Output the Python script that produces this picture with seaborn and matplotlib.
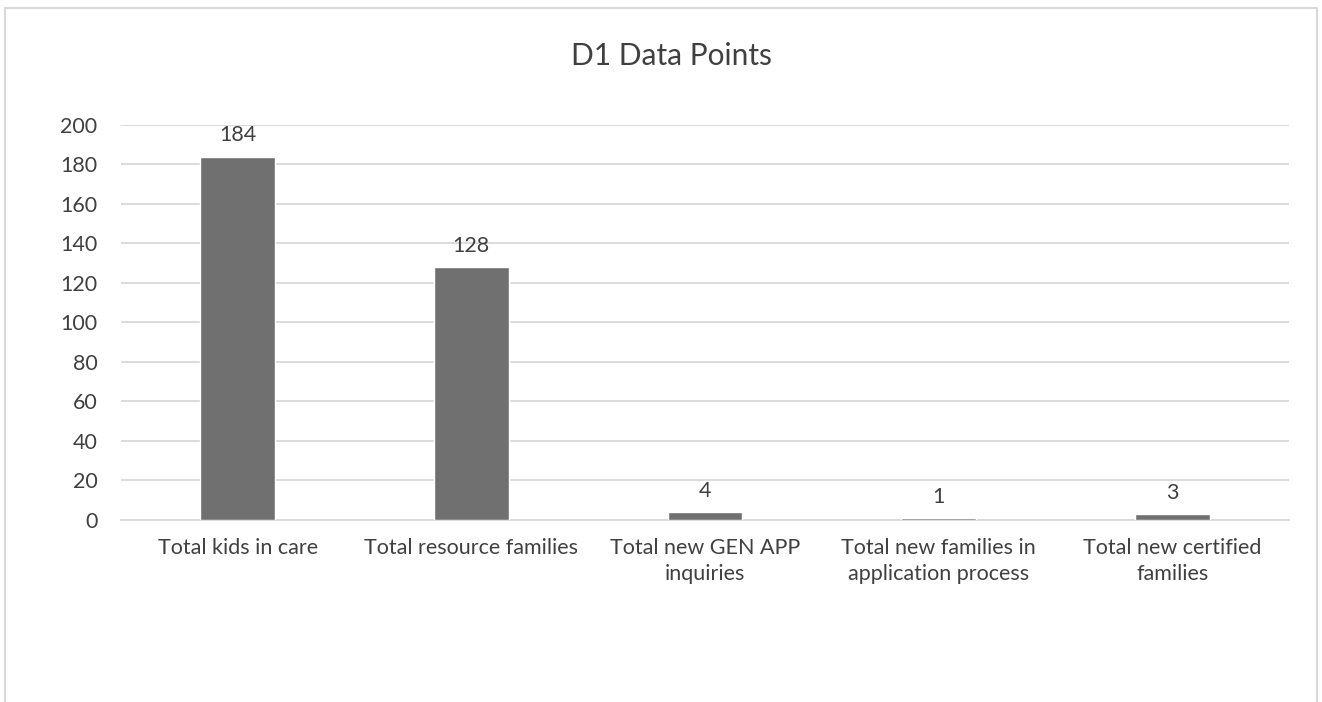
import matplotlib
matplotlib.use("Agg")
import matplotlib.pyplot as plt
from matplotlib.lines import Line2D
import seaborn as sns
import pandas as pd

categories = [
    "Total kids in care",
    "Total resource families",
    "Total new GEN APP\ninquiries",
    "Total new families in\napplication process",
    "Total new certified\nfamilies",
]
values = [184, 128, 4, 1, 3]
y_ticks = [0, 20, 40, 60, 80, 100, 120, 140, 160, 180, 200]

sns.set_theme(style="white")
plt.rcParams["font.family"] = ["Lato", "DejaVu Sans"]

text_color = "#404040"
bar_color = "#707070"
grid_color = "#d9d9d9"

df = pd.DataFrame({"category": categories, "value": values})

fig = plt.figure(figsize=(13.22, 7.02), dpi=100)
ax = fig.add_axes([0.0915, 0.2593, 0.8835, 0.5627])

sns.barplot(data=df, x="category", y="value", color=bar_color,
            saturation=1, width=0.32, ax=ax, zorder=3)

ax.set_ylim(0, 200)
ax.set_yticks(y_ticks)
ax.set_yticklabels([str(t) for t in y_ticks], fontsize=15.5, color=text_color)
ax.set_xticks(range(len(categories)))
ax.set_xticklabels(categories, fontsize=15.5, color=text_color, linespacing=1.4)
ax.tick_params(axis="x", length=0, pad=13)
ax.tick_params(axis="y", length=0, pad=17)
ax.set_xlabel("")
ax.set_ylabel("")
ax.yaxis.grid(True, color=grid_color, linewidth=1.3, zorder=0)
ax.set_axisbelow(True)
for side in ["top", "right", "left"]:
    ax.spines[side].set_visible(False)
ax.spines["bottom"].set_color(grid_color)
ax.spines["bottom"].set_linewidth(1.3)

for container in ax.containers:
    ax.bar_label(container, labels=[str(v) for v in values], padding=8,
                 fontsize=15.5, color=text_color)

fig.text(0.508, 0.92, "D1 Data Points", ha="center", va="center",
         fontsize=21.5, color=text_color)

# chart frame (open at the bottom)
frame_color = "#d9d9d9"
x0, x1, y1 = 5 / 1322, 1317 / 1322, 1 - 8 / 702
fig.add_artist(Line2D([x0, x0, x1, x1], [0, y1, y1, 0],
                      transform=fig.transFigure, color=frame_color, linewidth=1.5))

fig.savefig("out.png", dpi=100, facecolor="white")
